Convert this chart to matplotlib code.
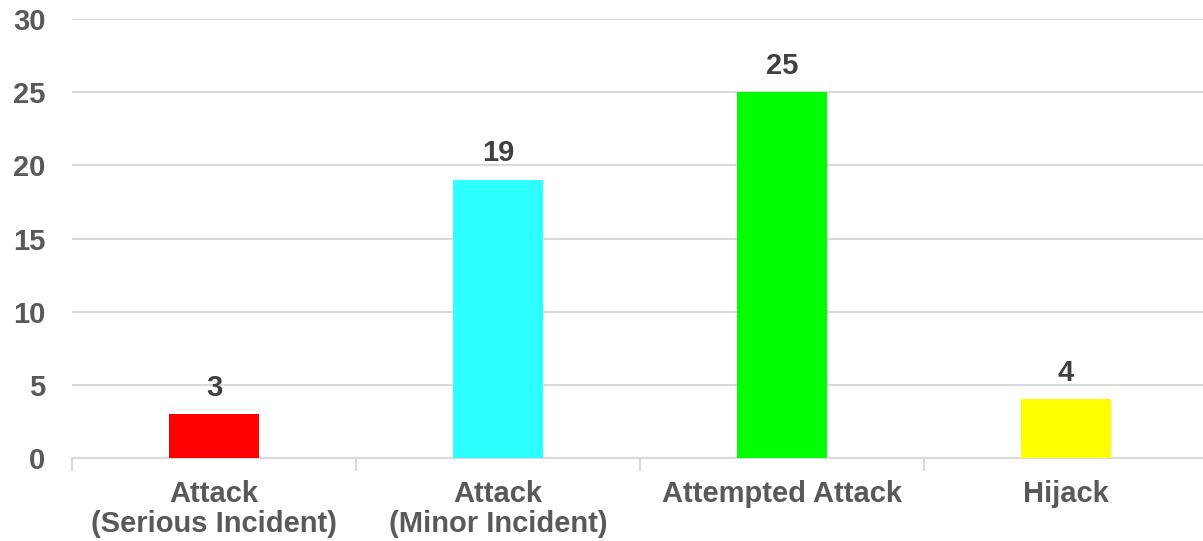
import matplotlib.pyplot as plt
import numpy as np

categories = ["Attack\n(Serious Incident)", "Attack\n(Minor Incident)", "Attempted Attack", "Hijack"]
values = [3, 19, 25, 4]
colors = ["#FF0000", "#2BFFFF", "#00FF00", "#FFFF00"]
y_ticks = [0, 5, 10, 15, 20, 25, 30]

plt.rcParams['font.family'] = ['Liberation Sans', 'DejaVu Sans']
plt.rcParams['font.weight'] = 'bold'

fig = plt.figure(figsize=(12.03, 5.41), dpi=100)
ax = fig.add_axes([72 / 1203, 83 / 541, 1136 / 1203, 439 / 541])

x = np.arange(len(categories))
bars = ax.bar(x, values, 0.32, color=colors, zorder=3)
ax.bar_label(bars, padding=9, fontsize=21, fontweight='bold', color='#404040')

ax.set_xlim(-0.5, len(categories) - 0.5)
ax.set_ylim(0, 30)
ax.set_yticks(y_ticks)
ax.yaxis.grid(True, color='#D9D9D9', linewidth=1.5, zorder=0)
ax.tick_params(axis='y', length=0, pad=19, labelsize=21, labelcolor='#595959')

ax.set_xticks(x)
ax.set_xticklabels(categories, fontsize=21, fontweight='bold', color='#595959', linespacing=1.1)
ax.tick_params(axis='x', length=0, pad=16)
ax.set_xticks(np.arange(-0.5, len(categories), 1), minor=True)
ax.tick_params(axis='x', which='minor', length=9, width=1.5, color='#D9D9D9')

for side in ['top', 'right', 'left']:
    ax.spines[side].set_visible(False)
ax.spines['bottom'].set_color('#D9D9D9')
ax.spines['bottom'].set_linewidth(1.5)

fig.savefig("out.png", dpi=100)
